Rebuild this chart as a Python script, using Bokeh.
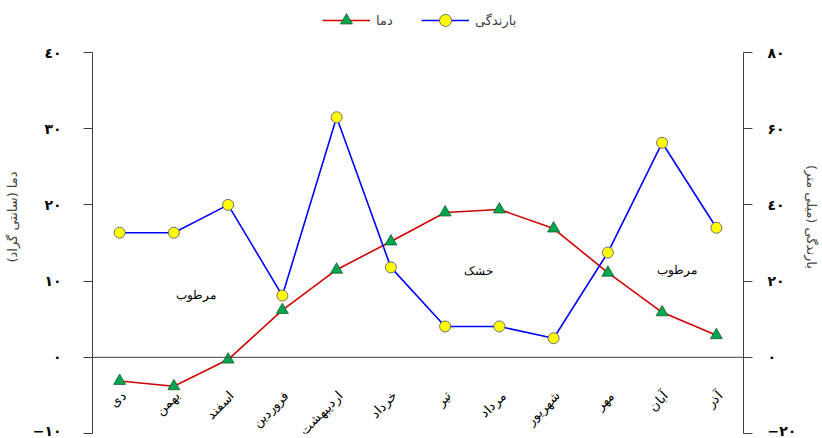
import math
from bokeh.plotting import figure
from bokeh.models import (Range1d, LinearAxis, FixedTicker, Span, Legend, LegendItem,
                          ColumnDataSource, LabelSet)
from bokeh.embed import file_html
from bokeh.resources import INLINE

# ---- data ----
months = ["دی", "بهمن", "اسفند", "فروردین", "اردیبهشت", "خرداد",
          "تیر", "مرداد", "شهریور", "مهر", "آبان", "آذر"]
temperature = [-3.1, -3.8, -0.3, 6.2, 11.5, 15.2, 19.0, 19.4, 16.9, 11.1, 5.9, 2.9]
precipitation = [32.7, 32.7, 40.0, 16.2, 63.0, 23.6, 8.1, 8.1, 5.0, 27.5, 56.3, 34.0]

temp_ticks = [-10, 0, 10, 20, 30, 40]
temp_tick_labels = ["−۱۰", "۰", "۱۰", "۲۰", "۳۰", "٤۰"]
rain_ticks = [-20, 0, 20, 40, 60, 80]
rain_tick_labels = ["−۲۰", "۰", "۲۰", "٤۰", "۶۰", "۸۰"]

zone_labels = ["مرطوب", "خشک", "مرطوب"]
zone_x = [1.4, 6.62, 10.28]
zone_y = [8.2, 11.3, 11.5]

series_names = ["دما", "بارندگی"]
temp_axis_title = "دما (سانتی گراد)"
rain_axis_title = "بارندگی (میلی متر)"

FONT = "DejaVu Sans"

# layout (pixels)
W, H = 822, 438
LEFT, RIGHT, BOTTOM = 92, 79, 5
AXIS_TOP_PX = 52          # where the top tick (40 / 80) sits
frame_h = H - BOTTOM
t_lo, t_hi = temp_ticks[0], temp_ticks[-1]
r_lo, r_hi = rain_ticks[0], rain_ticks[-1]
px_per_unit = (frame_h - AXIS_TOP_PX) / (t_hi - t_lo)
t_top = t_hi + AXIS_TOP_PX / px_per_unit
r_top = r_lo + (t_top - t_lo) * (r_hi - r_lo) / (t_hi - t_lo)

idx = list(range(len(months)))
src = ColumnDataSource(dict(x=idx, month=months, t=temperature, r=precipitation,
                            ly=[-4.75] * len(months)))
zsrc = ColumnDataSource(dict(x=zone_x, y=zone_y, text=zone_labels))

p = figure(width=W, height=H, x_range=Range1d(-0.5, len(months) - 0.5),
           y_range=Range1d(t_lo, t_top), output_backend="svg", toolbar_location=None,
           x_axis_location=None, y_axis_location=None,
           min_border_left=LEFT, min_border_right=RIGHT, min_border_top=0,
           min_border_bottom=BOTTOM)
p.outline_line_color = None
p.grid.visible = False
p.extra_y_ranges = {"rain": Range1d(r_lo, r_top)}

def style_axis(ax, standoff, label_standoff):
    ax.axis_line_color = "#404040"
    ax.major_tick_line_color = "#404040"
    ax.major_tick_out = 9
    ax.major_tick_in = 0
    ax.minor_tick_out = 0
    ax.minor_tick_in = 0
    ax.major_label_text_font = FONT
    ax.major_label_text_font_style = "bold"
    ax.major_label_text_font_size = "14px"
    ax.major_label_text_color = "black"
    ax.major_label_standoff = standoff
    ax.axis_label_text_font = FONT
    ax.axis_label_text_font_style = "normal"
    ax.axis_label_text_font_size = "13px"
    ax.axis_label_text_color = "#444444"
    ax.axis_label_standoff = label_standoff

yl = LinearAxis(ticker=FixedTicker(ticks=temp_ticks), bounds=(t_lo, t_hi),
                major_label_overrides=dict(zip(temp_ticks, temp_tick_labels)),
                axis_label=temp_axis_title)
style_axis(yl, 22, 10)
p.add_layout(yl, "left")

yr = LinearAxis(y_range_name="rain", ticker=FixedTicker(ticks=rain_ticks), bounds=(r_lo, r_hi),
                major_label_overrides=dict(zip(rain_ticks, rain_tick_labels)),
                axis_label=rain_axis_title)
style_axis(yr, 15, 5)
p.add_layout(yr, "right")

p.add_layout(Span(location=0, dimension="width", line_color="#404040", line_width=1))

t_line = p.line("x", "t", source=src, line_color="#d00000", line_width=1.6)
t_pts = p.scatter("x", "t", source=src, marker="triangle", size=12,
                  fill_color="#00a550", line_color="#1d5e2c", line_width=0.8)
r_line = p.line("x", "r", source=src, y_range_name="rain", line_color="#0000ff", line_width=1.6)
r_pts = p.scatter("x", "r", source=src, y_range_name="rain", marker="circle", size=11,
                  fill_color="#ffff00", line_color="#707070", line_width=1)

month_labels = LabelSet(x="x", y="ly", text="month", source=src, angle=math.pi / 4,
                        text_align="right", text_baseline="middle", x_offset=4,
                        text_font=FONT, text_font_size="13px", text_color="black")
p.add_layout(month_labels)

zone_set = LabelSet(x="x", y="y", text="text", source=zsrc, text_align="center",
                    text_baseline="middle", text_font=FONT, text_font_size="12px",
                    text_color="black")
p.add_layout(zone_set)

legend = Legend(items=[LegendItem(label=series_names[0], renderers=[t_line, t_pts]),
                       LegendItem(label=series_names[1], renderers=[r_line, r_pts])],
                orientation="horizontal", location=(230, frame_h - 35),
                glyph_width=48, glyph_height=30, label_standoff=6, spacing=25,
                padding=0, margin=0, border_line_color=None, background_fill_alpha=0,
                label_text_font=FONT, label_text_font_size="13px",
                label_text_color="#404040")
p.add_layout(legend, "center")

open("out.html", "w").write(file_html(p, INLINE))
